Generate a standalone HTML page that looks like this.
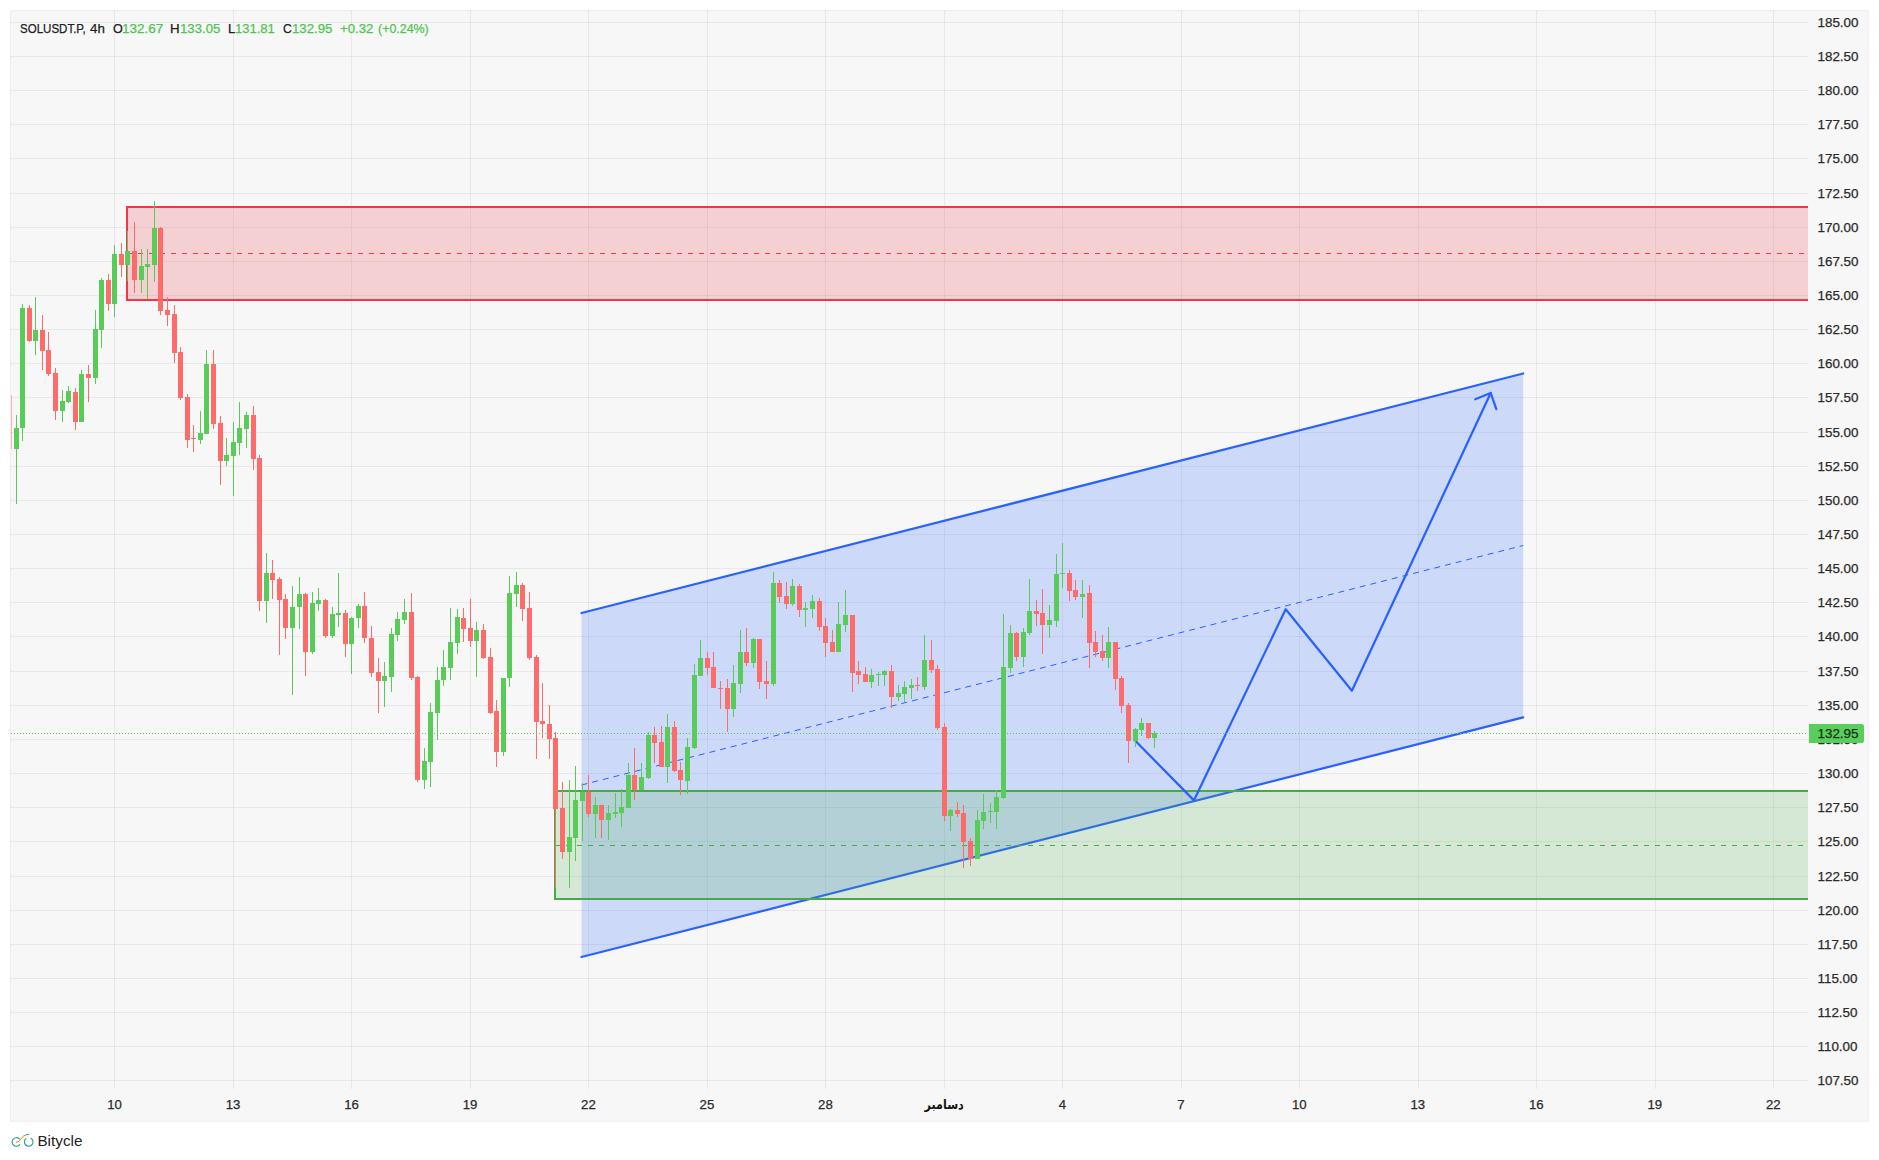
<!DOCTYPE html>
<html lang="fa"><head><meta charset="utf-8"><title>SOLUSDT.P 4h</title>
<style>
html,body{margin:0;padding:0;background:#fff}
body{width:1879px;height:1160px;position:relative;overflow:hidden;font-family:"Liberation Sans","DejaVu Sans",sans-serif;color:#2b2b2b}
svg{position:absolute;left:0;top:0}
.pl,.tl,.lg{-webkit-text-stroke:0.25px currentColor}
.pl{position:absolute;left:1817.5px;font-size:13.4px;line-height:16px;height:16px;white-space:nowrap}
.tl{position:absolute;top:1097.2px;font-size:13.2px;line-height:16px;height:16px;width:80px;margin-left:-40px;text-align:center;white-space:nowrap}
.lg{position:absolute;top:20.7px;font-size:13.6px;color:#202020;line-height:16px;height:16px;white-space:nowrap;transform-origin:0 50%}
.gv{color:#4fc44f}
</style></head><body>
<svg width="1879" height="1160" viewBox="0 0 1879 1160">
<rect x="10" y="10" width="1858.8" height="1111.8" fill="#efefef"/>
<rect x="11.2" y="11.2" width="1856.6" height="1109.6" fill="#f7f7f7"/>
<g fill="#000" fill-opacity="0.058" shape-rendering="crispEdges">
<rect x="10" y="22" width="1798" height="1"/>
<rect x="10" y="56" width="1798" height="1"/>
<rect x="10" y="90" width="1798" height="1"/>
<rect x="10" y="124" width="1798" height="1"/>
<rect x="10" y="158" width="1798" height="1"/>
<rect x="10" y="193" width="1798" height="1"/>
<rect x="10" y="227" width="1798" height="1"/>
<rect x="10" y="261" width="1798" height="1"/>
<rect x="10" y="295" width="1798" height="1"/>
<rect x="10" y="329" width="1798" height="1"/>
<rect x="10" y="363" width="1798" height="1"/>
<rect x="10" y="397" width="1798" height="1"/>
<rect x="10" y="432" width="1798" height="1"/>
<rect x="10" y="466" width="1798" height="1"/>
<rect x="10" y="500" width="1798" height="1"/>
<rect x="10" y="534" width="1798" height="1"/>
<rect x="10" y="568" width="1798" height="1"/>
<rect x="10" y="602" width="1798" height="1"/>
<rect x="10" y="636" width="1798" height="1"/>
<rect x="10" y="671" width="1798" height="1"/>
<rect x="10" y="705" width="1798" height="1"/>
<rect x="10" y="739" width="1798" height="1"/>
<rect x="10" y="773" width="1798" height="1"/>
<rect x="10" y="807" width="1798" height="1"/>
<rect x="10" y="841" width="1798" height="1"/>
<rect x="10" y="876" width="1798" height="1"/>
<rect x="10" y="910" width="1798" height="1"/>
<rect x="10" y="944" width="1798" height="1"/>
<rect x="10" y="978" width="1798" height="1"/>
<rect x="10" y="1012" width="1798" height="1"/>
<rect x="10" y="1046" width="1798" height="1"/>
<rect x="10" y="1080" width="1798" height="1"/>
<rect x="114" y="10" width="1" height="1079"/>
<rect x="233" y="10" width="1" height="1079"/>
<rect x="351" y="10" width="1" height="1079"/>
<rect x="470" y="10" width="1" height="1079"/>
<rect x="588" y="10" width="1" height="1079"/>
<rect x="707" y="10" width="1" height="1079"/>
<rect x="825" y="10" width="1" height="1079"/>
<rect x="944" y="10" width="1" height="1079"/>
<rect x="1062" y="10" width="1" height="1079"/>
<rect x="1181" y="10" width="1" height="1079"/>
<rect x="1299" y="10" width="1" height="1079"/>
<rect x="1418" y="10" width="1" height="1079"/>
<rect x="1536" y="10" width="1" height="1079"/>
<rect x="1655" y="10" width="1" height="1079"/>
<rect x="1773" y="10" width="1" height="1079"/>
</g>
<clipPath id="cp"><rect x="10" y="10" width="1798" height="1079"/></clipPath>
<g clip-path="url(#cp)">
<rect x="127.0" y="207.0" width="1686.0" height="93.0" fill="#f23645" fill-opacity="0.2"/>
<path d="M1813 207.0 H127.0 V300.0 H1813" fill="none" stroke="#f23645" stroke-width="2"/>
<path d="M127.0 253.5 H1808" stroke="#f23645" stroke-width="1" stroke-dasharray="5 6" fill="none"/>
<path d="M581.5 613.0 L1523.2 373.5 L1523.2 717.4 L581.5 957.0 Z" fill="#2962ff" fill-opacity="0.2"/>
<path d="M581.5 613.0 L1523.2 373.5 M581.5 957.0 L1523.2 717.4" fill="none" stroke="#2962ff" stroke-width="2.25" stroke-linecap="round"/>
<path d="M581.5 785.0 L1523.2 545.5" fill="none" stroke="#2962ff" stroke-width="1" stroke-dasharray="6 5"/>
<rect x="555.0" y="791.0" width="1258.0" height="108.0" fill="#4caf50" fill-opacity="0.2"/>
<path d="M1813 791.0 H555.0 V899.0 H1813" fill="none" stroke="#45ac45" stroke-width="2"/>
<path d="M555.0 845.5 H1808" stroke="#45ac45" stroke-width="1" stroke-dasharray="5 6" fill="none"/>
<path d="M1134.8 740.2 L1193.9 800.4 L1285.7 609.2 L1351.9 690.7 L1490.7 393" fill="none" stroke="#2962ff" stroke-width="2.25" stroke-linejoin="round" stroke-linecap="round"/>
<path d="M1475.3 399.3 L1490.7 393 L1496.3 409.2" fill="none" stroke="#2962ff" stroke-width="2.25" stroke-linejoin="round" stroke-linecap="round"/>
<g fill="#fd6c6b" shape-rendering="crispEdges">
<rect x="11" y="395" width="1" height="54" fill-opacity="0.5"/>
<rect x="29" y="305" width="1" height="37"/>
<rect x="27" y="308" width="5" height="33"/>
<rect x="42" y="315" width="1" height="55"/>
<rect x="40" y="330" width="5" height="21"/>
<rect x="48" y="332" width="1" height="44"/>
<rect x="46" y="350" width="5" height="24"/>
<rect x="55" y="368" width="1" height="52"/>
<rect x="53" y="373" width="5" height="38"/>
<rect x="75" y="388" width="1" height="42"/>
<rect x="73" y="392" width="5" height="30"/>
<rect x="88" y="365" width="1" height="37"/>
<rect x="86" y="374" width="5" height="4"/>
<rect x="108" y="274" width="1" height="37"/>
<rect x="106" y="280" width="5" height="24"/>
<rect x="121" y="243" width="1" height="34"/>
<rect x="119" y="254" width="5" height="11"/>
<rect x="134" y="222" width="1" height="71"/>
<rect x="132" y="251" width="5" height="29"/>
<rect x="160" y="227" width="1" height="88"/>
<rect x="158" y="228" width="5" height="83"/>
<rect x="167" y="297" width="1" height="29"/>
<rect x="165" y="310" width="5" height="5"/>
<rect x="174" y="305" width="1" height="58"/>
<rect x="172" y="314" width="5" height="39"/>
<rect x="180" y="347" width="1" height="53"/>
<rect x="178" y="352" width="5" height="46"/>
<rect x="187" y="394" width="1" height="54"/>
<rect x="185" y="397" width="5" height="43"/>
<rect x="193" y="425" width="1" height="27"/>
<rect x="191" y="438" width="5" height="1"/>
<rect x="213" y="350" width="1" height="79"/>
<rect x="211" y="364" width="5" height="60"/>
<rect x="220" y="416" width="1" height="69"/>
<rect x="218" y="423" width="5" height="38"/>
<rect x="253" y="406" width="1" height="64"/>
<rect x="251" y="415" width="5" height="44"/>
<rect x="259" y="455" width="1" height="156"/>
<rect x="257" y="458" width="5" height="143"/>
<rect x="272" y="560" width="1" height="39"/>
<rect x="270" y="573" width="5" height="7"/>
<rect x="279" y="577" width="1" height="78"/>
<rect x="277" y="579" width="5" height="21"/>
<rect x="285" y="594" width="1" height="45"/>
<rect x="283" y="599" width="5" height="29"/>
<rect x="305" y="593" width="1" height="83"/>
<rect x="303" y="594" width="5" height="58"/>
<rect x="325" y="599" width="1" height="39"/>
<rect x="323" y="600" width="5" height="36"/>
<rect x="345" y="610" width="1" height="47"/>
<rect x="343" y="613" width="5" height="31"/>
<rect x="364" y="592" width="1" height="51"/>
<rect x="362" y="606" width="5" height="32"/>
<rect x="371" y="626" width="1" height="51"/>
<rect x="369" y="638" width="5" height="35"/>
<rect x="378" y="658" width="1" height="55"/>
<rect x="376" y="672" width="5" height="9"/>
<rect x="411" y="593" width="1" height="87"/>
<rect x="409" y="612" width="5" height="66"/>
<rect x="417" y="676" width="1" height="106"/>
<rect x="415" y="677" width="5" height="103"/>
<rect x="463" y="608" width="1" height="34"/>
<rect x="461" y="618" width="5" height="11"/>
<rect x="470" y="599" width="1" height="48"/>
<rect x="468" y="628" width="5" height="13"/>
<rect x="483" y="624" width="1" height="35"/>
<rect x="481" y="630" width="5" height="28"/>
<rect x="490" y="648" width="1" height="66"/>
<rect x="488" y="657" width="5" height="56"/>
<rect x="496" y="700" width="1" height="67"/>
<rect x="494" y="711" width="5" height="41"/>
<rect x="522" y="583" width="1" height="38"/>
<rect x="520" y="585" width="5" height="24"/>
<rect x="529" y="592" width="1" height="68"/>
<rect x="527" y="608" width="5" height="50"/>
<rect x="536" y="655" width="1" height="104"/>
<rect x="534" y="657" width="5" height="65"/>
<rect x="542" y="683" width="1" height="55"/>
<rect x="540" y="721" width="5" height="3"/>
<rect x="549" y="705" width="1" height="54"/>
<rect x="547" y="724" width="5" height="15"/>
<rect x="555" y="732" width="1" height="156"/>
<rect x="553" y="738" width="5" height="71"/>
<rect x="562" y="782" width="1" height="77"/>
<rect x="560" y="808" width="5" height="44"/>
<rect x="588" y="775" width="1" height="42"/>
<rect x="586" y="792" width="5" height="22"/>
<rect x="601" y="805" width="1" height="33"/>
<rect x="599" y="805" width="5" height="15"/>
<rect x="634" y="748" width="1" height="52"/>
<rect x="632" y="775" width="5" height="15"/>
<rect x="654" y="727" width="1" height="36"/>
<rect x="652" y="735" width="5" height="8"/>
<rect x="661" y="726" width="1" height="41"/>
<rect x="659" y="742" width="5" height="25"/>
<rect x="674" y="721" width="1" height="51"/>
<rect x="672" y="727" width="5" height="44"/>
<rect x="680" y="762" width="1" height="33"/>
<rect x="678" y="770" width="5" height="10"/>
<rect x="707" y="652" width="1" height="23"/>
<rect x="705" y="658" width="5" height="10"/>
<rect x="713" y="652" width="1" height="36"/>
<rect x="711" y="667" width="5" height="21"/>
<rect x="720" y="681" width="1" height="28"/>
<rect x="718" y="688" width="5" height="1"/>
<rect x="727" y="679" width="1" height="53"/>
<rect x="725" y="688" width="5" height="21"/>
<rect x="746" y="628" width="1" height="38"/>
<rect x="744" y="652" width="5" height="11"/>
<rect x="759" y="639" width="1" height="50"/>
<rect x="757" y="639" width="5" height="43"/>
<rect x="766" y="661" width="1" height="38"/>
<rect x="764" y="681" width="5" height="3"/>
<rect x="779" y="580" width="1" height="23"/>
<rect x="777" y="583" width="5" height="14"/>
<rect x="786" y="582" width="1" height="27"/>
<rect x="784" y="596" width="5" height="8"/>
<rect x="799" y="584" width="1" height="33"/>
<rect x="797" y="586" width="5" height="24"/>
<rect x="819" y="598" width="1" height="33"/>
<rect x="817" y="601" width="5" height="26"/>
<rect x="825" y="618" width="1" height="39"/>
<rect x="823" y="626" width="5" height="17"/>
<rect x="832" y="630" width="1" height="22"/>
<rect x="830" y="642" width="5" height="10"/>
<rect x="852" y="615" width="1" height="77"/>
<rect x="850" y="615" width="5" height="58"/>
<rect x="858" y="661" width="1" height="23"/>
<rect x="856" y="671" width="5" height="4"/>
<rect x="865" y="667" width="1" height="15"/>
<rect x="863" y="674" width="5" height="8"/>
<rect x="891" y="665" width="1" height="43"/>
<rect x="889" y="671" width="5" height="26"/>
<rect x="917" y="677" width="1" height="14"/>
<rect x="915" y="685" width="5" height="1"/>
<rect x="931" y="640" width="1" height="33"/>
<rect x="929" y="660" width="5" height="10"/>
<rect x="937" y="665" width="1" height="65"/>
<rect x="935" y="669" width="5" height="59"/>
<rect x="944" y="723" width="1" height="98"/>
<rect x="942" y="727" width="5" height="89"/>
<rect x="957" y="802" width="1" height="15"/>
<rect x="955" y="810" width="5" height="4"/>
<rect x="963" y="805" width="1" height="63"/>
<rect x="961" y="813" width="5" height="29"/>
<rect x="970" y="838" width="1" height="28"/>
<rect x="968" y="841" width="5" height="18"/>
<rect x="1016" y="632" width="1" height="29"/>
<rect x="1014" y="633" width="5" height="24"/>
<rect x="1036" y="600" width="1" height="26"/>
<rect x="1034" y="611" width="5" height="3"/>
<rect x="1042" y="589" width="1" height="65"/>
<rect x="1040" y="613" width="5" height="12"/>
<rect x="1069" y="570" width="1" height="31"/>
<rect x="1067" y="573" width="5" height="18"/>
<rect x="1075" y="580" width="1" height="20"/>
<rect x="1073" y="590" width="5" height="7"/>
<rect x="1089" y="585" width="1" height="83"/>
<rect x="1087" y="593" width="5" height="50"/>
<rect x="1095" y="631" width="1" height="26"/>
<rect x="1093" y="642" width="5" height="10"/>
<rect x="1102" y="635" width="1" height="26"/>
<rect x="1100" y="651" width="5" height="7"/>
<rect x="1115" y="642" width="1" height="48"/>
<rect x="1113" y="642" width="5" height="37"/>
<rect x="1121" y="676" width="1" height="37"/>
<rect x="1119" y="678" width="5" height="28"/>
<rect x="1128" y="703" width="1" height="60"/>
<rect x="1126" y="705" width="5" height="36"/>
<rect x="1148" y="723" width="1" height="16"/>
<rect x="1146" y="723" width="5" height="15"/>
</g>
<g fill="#58cb58" shape-rendering="crispEdges">
<rect x="16" y="415" width="1" height="89"/>
<rect x="14" y="428" width="5" height="21"/>
<rect x="22" y="304" width="1" height="137"/>
<rect x="20" y="308" width="5" height="120"/>
<rect x="35" y="297" width="1" height="58"/>
<rect x="33" y="330" width="5" height="11"/>
<rect x="62" y="390" width="1" height="32"/>
<rect x="60" y="401" width="5" height="10"/>
<rect x="68" y="386" width="1" height="17"/>
<rect x="66" y="391" width="5" height="11"/>
<rect x="81" y="370" width="1" height="52"/>
<rect x="79" y="374" width="5" height="48"/>
<rect x="95" y="310" width="1" height="74"/>
<rect x="93" y="329" width="5" height="49"/>
<rect x="101" y="278" width="1" height="70"/>
<rect x="99" y="280" width="5" height="50"/>
<rect x="114" y="245" width="1" height="72"/>
<rect x="112" y="254" width="5" height="50"/>
<rect x="127" y="231" width="1" height="50"/>
<rect x="125" y="251" width="5" height="14"/>
<rect x="141" y="249" width="1" height="44"/>
<rect x="139" y="266" width="5" height="14"/>
<rect x="147" y="249" width="1" height="50"/>
<rect x="145" y="264" width="5" height="3"/>
<rect x="154" y="201" width="1" height="81"/>
<rect x="152" y="228" width="5" height="37"/>
<rect x="200" y="411" width="1" height="33"/>
<rect x="198" y="433" width="5" height="7"/>
<rect x="206" y="350" width="1" height="84"/>
<rect x="204" y="364" width="5" height="70"/>
<rect x="226" y="438" width="1" height="28"/>
<rect x="224" y="455" width="5" height="6"/>
<rect x="233" y="422" width="1" height="74"/>
<rect x="231" y="442" width="5" height="14"/>
<rect x="239" y="402" width="1" height="53"/>
<rect x="237" y="428" width="5" height="15"/>
<rect x="246" y="412" width="1" height="36"/>
<rect x="244" y="415" width="5" height="14"/>
<rect x="266" y="553" width="1" height="70"/>
<rect x="264" y="573" width="5" height="28"/>
<rect x="292" y="586" width="1" height="109"/>
<rect x="290" y="607" width="5" height="21"/>
<rect x="299" y="577" width="1" height="52"/>
<rect x="297" y="594" width="5" height="13"/>
<rect x="312" y="592" width="1" height="62"/>
<rect x="310" y="603" width="5" height="49"/>
<rect x="318" y="588" width="1" height="23"/>
<rect x="316" y="600" width="5" height="4"/>
<rect x="332" y="607" width="1" height="31"/>
<rect x="330" y="614" width="5" height="22"/>
<rect x="338" y="573" width="1" height="54"/>
<rect x="336" y="613" width="5" height="2"/>
<rect x="351" y="617" width="1" height="57"/>
<rect x="349" y="618" width="5" height="26"/>
<rect x="358" y="604" width="1" height="24"/>
<rect x="356" y="606" width="5" height="12"/>
<rect x="384" y="662" width="1" height="45"/>
<rect x="382" y="676" width="5" height="5"/>
<rect x="391" y="628" width="1" height="64"/>
<rect x="389" y="634" width="5" height="43"/>
<rect x="397" y="612" width="1" height="29"/>
<rect x="395" y="619" width="5" height="16"/>
<rect x="404" y="599" width="1" height="25"/>
<rect x="402" y="612" width="5" height="8"/>
<rect x="424" y="748" width="1" height="41"/>
<rect x="422" y="761" width="5" height="19"/>
<rect x="430" y="703" width="1" height="84"/>
<rect x="428" y="712" width="5" height="50"/>
<rect x="437" y="667" width="1" height="73"/>
<rect x="435" y="680" width="5" height="33"/>
<rect x="443" y="650" width="1" height="36"/>
<rect x="441" y="667" width="5" height="13"/>
<rect x="450" y="608" width="1" height="72"/>
<rect x="448" y="642" width="5" height="26"/>
<rect x="457" y="609" width="1" height="45"/>
<rect x="455" y="617" width="5" height="26"/>
<rect x="476" y="622" width="1" height="55"/>
<rect x="474" y="630" width="5" height="11"/>
<rect x="503" y="678" width="1" height="78"/>
<rect x="501" y="678" width="5" height="74"/>
<rect x="509" y="576" width="1" height="111"/>
<rect x="507" y="593" width="5" height="85"/>
<rect x="516" y="572" width="1" height="35"/>
<rect x="514" y="585" width="5" height="9"/>
<rect x="569" y="780" width="1" height="108"/>
<rect x="567" y="837" width="5" height="15"/>
<rect x="575" y="766" width="1" height="95"/>
<rect x="573" y="800" width="5" height="38"/>
<rect x="582" y="783" width="1" height="58"/>
<rect x="580" y="792" width="5" height="9"/>
<rect x="595" y="797" width="1" height="41"/>
<rect x="593" y="805" width="5" height="9"/>
<rect x="608" y="805" width="1" height="35"/>
<rect x="606" y="813" width="5" height="7"/>
<rect x="615" y="793" width="1" height="25"/>
<rect x="613" y="812" width="5" height="2"/>
<rect x="621" y="789" width="1" height="38"/>
<rect x="619" y="807" width="5" height="6"/>
<rect x="628" y="763" width="1" height="45"/>
<rect x="626" y="775" width="5" height="33"/>
<rect x="641" y="763" width="1" height="27"/>
<rect x="639" y="777" width="5" height="13"/>
<rect x="648" y="732" width="1" height="47"/>
<rect x="646" y="735" width="5" height="43"/>
<rect x="667" y="714" width="1" height="69"/>
<rect x="665" y="727" width="5" height="40"/>
<rect x="687" y="738" width="1" height="56"/>
<rect x="685" y="747" width="5" height="34"/>
<rect x="694" y="664" width="1" height="85"/>
<rect x="692" y="675" width="5" height="73"/>
<rect x="700" y="640" width="1" height="36"/>
<rect x="698" y="658" width="5" height="18"/>
<rect x="733" y="665" width="1" height="52"/>
<rect x="731" y="683" width="5" height="26"/>
<rect x="740" y="630" width="1" height="63"/>
<rect x="738" y="652" width="5" height="32"/>
<rect x="753" y="638" width="1" height="30"/>
<rect x="751" y="639" width="5" height="24"/>
<rect x="773" y="572" width="1" height="114"/>
<rect x="771" y="583" width="5" height="101"/>
<rect x="792" y="579" width="1" height="27"/>
<rect x="790" y="586" width="5" height="18"/>
<rect x="805" y="602" width="1" height="25"/>
<rect x="803" y="608" width="5" height="2"/>
<rect x="812" y="595" width="1" height="23"/>
<rect x="810" y="601" width="5" height="8"/>
<rect x="838" y="602" width="1" height="50"/>
<rect x="836" y="624" width="5" height="28"/>
<rect x="845" y="590" width="1" height="42"/>
<rect x="843" y="615" width="5" height="10"/>
<rect x="871" y="669" width="1" height="19"/>
<rect x="869" y="675" width="5" height="7"/>
<rect x="878" y="672" width="1" height="14"/>
<rect x="876" y="674" width="5" height="1"/>
<rect x="884" y="670" width="1" height="16"/>
<rect x="882" y="671" width="5" height="4"/>
<rect x="898" y="685" width="1" height="16"/>
<rect x="896" y="693" width="5" height="4"/>
<rect x="904" y="681" width="1" height="21"/>
<rect x="902" y="687" width="5" height="7"/>
<rect x="911" y="679" width="1" height="20"/>
<rect x="909" y="685" width="5" height="3"/>
<rect x="924" y="635" width="1" height="55"/>
<rect x="922" y="660" width="5" height="27"/>
<rect x="950" y="809" width="1" height="22"/>
<rect x="948" y="810" width="5" height="6"/>
<rect x="977" y="810" width="1" height="49"/>
<rect x="975" y="820" width="5" height="39"/>
<rect x="983" y="794" width="1" height="35"/>
<rect x="981" y="812" width="5" height="9"/>
<rect x="990" y="803" width="1" height="20"/>
<rect x="988" y="811" width="5" height="1"/>
<rect x="996" y="790" width="1" height="39"/>
<rect x="994" y="797" width="5" height="15"/>
<rect x="1003" y="614" width="1" height="185"/>
<rect x="1001" y="667" width="5" height="131"/>
<rect x="1010" y="625" width="1" height="48"/>
<rect x="1008" y="633" width="5" height="35"/>
<rect x="1023" y="628" width="1" height="39"/>
<rect x="1021" y="632" width="5" height="25"/>
<rect x="1029" y="579" width="1" height="56"/>
<rect x="1027" y="611" width="5" height="22"/>
<rect x="1049" y="605" width="1" height="33"/>
<rect x="1047" y="620" width="5" height="5"/>
<rect x="1056" y="554" width="1" height="73"/>
<rect x="1054" y="574" width="5" height="47"/>
<rect x="1062" y="543" width="1" height="45"/>
<rect x="1060" y="573" width="5" height="1"/>
<rect x="1082" y="580" width="1" height="38"/>
<rect x="1080" y="594" width="5" height="3"/>
<rect x="1108" y="627" width="1" height="41"/>
<rect x="1106" y="642" width="5" height="16"/>
<rect x="1135" y="728" width="1" height="19"/>
<rect x="1133" y="729" width="5" height="12"/>
<rect x="1141" y="718" width="1" height="18"/>
<rect x="1139" y="723" width="5" height="7"/>
<rect x="1154" y="731" width="1" height="17"/>
<rect x="1152" y="733" width="5" height="5"/>
</g>
<g fill="#58cb58" shape-rendering="crispEdges">
<path d="M11 733h1v1h-1zM14 733h1v1h-1zM17 733h1v1h-1zM20 733h1v1h-1zM23 733h1v1h-1zM26 733h1v1h-1zM29 733h1v1h-1zM32 733h1v1h-1zM35 733h1v1h-1zM38 733h1v1h-1zM41 733h1v1h-1zM44 733h1v1h-1zM47 733h1v1h-1zM50 733h1v1h-1zM53 733h1v1h-1zM56 733h1v1h-1zM59 733h1v1h-1zM62 733h1v1h-1zM65 733h1v1h-1zM68 733h1v1h-1zM71 733h1v1h-1zM74 733h1v1h-1zM77 733h1v1h-1zM80 733h1v1h-1zM83 733h1v1h-1zM86 733h1v1h-1zM89 733h1v1h-1zM92 733h1v1h-1zM95 733h1v1h-1zM98 733h1v1h-1zM101 733h1v1h-1zM104 733h1v1h-1zM107 733h1v1h-1zM110 733h1v1h-1zM113 733h1v1h-1zM116 733h1v1h-1zM119 733h1v1h-1zM122 733h1v1h-1zM125 733h1v1h-1zM128 733h1v1h-1zM131 733h1v1h-1zM134 733h1v1h-1zM137 733h1v1h-1zM140 733h1v1h-1zM143 733h1v1h-1zM146 733h1v1h-1zM149 733h1v1h-1zM152 733h1v1h-1zM155 733h1v1h-1zM158 733h1v1h-1zM161 733h1v1h-1zM164 733h1v1h-1zM167 733h1v1h-1zM170 733h1v1h-1zM173 733h1v1h-1zM176 733h1v1h-1zM179 733h1v1h-1zM182 733h1v1h-1zM185 733h1v1h-1zM188 733h1v1h-1zM191 733h1v1h-1zM194 733h1v1h-1zM197 733h1v1h-1zM200 733h1v1h-1zM203 733h1v1h-1zM206 733h1v1h-1zM209 733h1v1h-1zM212 733h1v1h-1zM215 733h1v1h-1zM218 733h1v1h-1zM221 733h1v1h-1zM224 733h1v1h-1zM227 733h1v1h-1zM230 733h1v1h-1zM233 733h1v1h-1zM236 733h1v1h-1zM239 733h1v1h-1zM242 733h1v1h-1zM245 733h1v1h-1zM248 733h1v1h-1zM251 733h1v1h-1zM254 733h1v1h-1zM257 733h1v1h-1zM260 733h1v1h-1zM263 733h1v1h-1zM266 733h1v1h-1zM269 733h1v1h-1zM272 733h1v1h-1zM275 733h1v1h-1zM278 733h1v1h-1zM281 733h1v1h-1zM284 733h1v1h-1zM287 733h1v1h-1zM290 733h1v1h-1zM293 733h1v1h-1zM296 733h1v1h-1zM299 733h1v1h-1zM302 733h1v1h-1zM305 733h1v1h-1zM308 733h1v1h-1zM311 733h1v1h-1zM314 733h1v1h-1zM317 733h1v1h-1zM320 733h1v1h-1zM323 733h1v1h-1zM326 733h1v1h-1zM329 733h1v1h-1zM332 733h1v1h-1zM335 733h1v1h-1zM338 733h1v1h-1zM341 733h1v1h-1zM344 733h1v1h-1zM347 733h1v1h-1zM350 733h1v1h-1zM353 733h1v1h-1zM356 733h1v1h-1zM359 733h1v1h-1zM362 733h1v1h-1zM365 733h1v1h-1zM368 733h1v1h-1zM371 733h1v1h-1zM374 733h1v1h-1zM377 733h1v1h-1zM380 733h1v1h-1zM383 733h1v1h-1zM386 733h1v1h-1zM389 733h1v1h-1zM392 733h1v1h-1zM395 733h1v1h-1zM398 733h1v1h-1zM401 733h1v1h-1zM404 733h1v1h-1zM407 733h1v1h-1zM410 733h1v1h-1zM413 733h1v1h-1zM416 733h1v1h-1zM419 733h1v1h-1zM422 733h1v1h-1zM425 733h1v1h-1zM428 733h1v1h-1zM431 733h1v1h-1zM434 733h1v1h-1zM437 733h1v1h-1zM440 733h1v1h-1zM443 733h1v1h-1zM446 733h1v1h-1zM449 733h1v1h-1zM452 733h1v1h-1zM455 733h1v1h-1zM458 733h1v1h-1zM461 733h1v1h-1zM464 733h1v1h-1zM467 733h1v1h-1zM470 733h1v1h-1zM473 733h1v1h-1zM476 733h1v1h-1zM479 733h1v1h-1zM482 733h1v1h-1zM485 733h1v1h-1zM488 733h1v1h-1zM491 733h1v1h-1zM494 733h1v1h-1zM497 733h1v1h-1zM500 733h1v1h-1zM503 733h1v1h-1zM506 733h1v1h-1zM509 733h1v1h-1zM512 733h1v1h-1zM515 733h1v1h-1zM518 733h1v1h-1zM521 733h1v1h-1zM524 733h1v1h-1zM527 733h1v1h-1zM530 733h1v1h-1zM533 733h1v1h-1zM536 733h1v1h-1zM539 733h1v1h-1zM542 733h1v1h-1zM545 733h1v1h-1zM548 733h1v1h-1zM551 733h1v1h-1zM554 733h1v1h-1zM557 733h1v1h-1zM560 733h1v1h-1zM563 733h1v1h-1zM566 733h1v1h-1zM569 733h1v1h-1zM572 733h1v1h-1zM575 733h1v1h-1zM578 733h1v1h-1zM581 733h1v1h-1zM584 733h1v1h-1zM587 733h1v1h-1zM590 733h1v1h-1zM593 733h1v1h-1zM596 733h1v1h-1zM599 733h1v1h-1zM602 733h1v1h-1zM605 733h1v1h-1zM608 733h1v1h-1zM611 733h1v1h-1zM614 733h1v1h-1zM617 733h1v1h-1zM620 733h1v1h-1zM623 733h1v1h-1zM626 733h1v1h-1zM629 733h1v1h-1zM632 733h1v1h-1zM635 733h1v1h-1zM638 733h1v1h-1zM641 733h1v1h-1zM644 733h1v1h-1zM647 733h1v1h-1zM650 733h1v1h-1zM653 733h1v1h-1zM656 733h1v1h-1zM659 733h1v1h-1zM662 733h1v1h-1zM665 733h1v1h-1zM668 733h1v1h-1zM671 733h1v1h-1zM674 733h1v1h-1zM677 733h1v1h-1zM680 733h1v1h-1zM683 733h1v1h-1zM686 733h1v1h-1zM689 733h1v1h-1zM692 733h1v1h-1zM695 733h1v1h-1zM698 733h1v1h-1zM701 733h1v1h-1zM704 733h1v1h-1zM707 733h1v1h-1zM710 733h1v1h-1zM713 733h1v1h-1zM716 733h1v1h-1zM719 733h1v1h-1zM722 733h1v1h-1zM725 733h1v1h-1zM728 733h1v1h-1zM731 733h1v1h-1zM734 733h1v1h-1zM737 733h1v1h-1zM740 733h1v1h-1zM743 733h1v1h-1zM746 733h1v1h-1zM749 733h1v1h-1zM752 733h1v1h-1zM755 733h1v1h-1zM758 733h1v1h-1zM761 733h1v1h-1zM764 733h1v1h-1zM767 733h1v1h-1zM770 733h1v1h-1zM773 733h1v1h-1zM776 733h1v1h-1zM779 733h1v1h-1zM782 733h1v1h-1zM785 733h1v1h-1zM788 733h1v1h-1zM791 733h1v1h-1zM794 733h1v1h-1zM797 733h1v1h-1zM800 733h1v1h-1zM803 733h1v1h-1zM806 733h1v1h-1zM809 733h1v1h-1zM812 733h1v1h-1zM815 733h1v1h-1zM818 733h1v1h-1zM821 733h1v1h-1zM824 733h1v1h-1zM827 733h1v1h-1zM830 733h1v1h-1zM833 733h1v1h-1zM836 733h1v1h-1zM839 733h1v1h-1zM842 733h1v1h-1zM845 733h1v1h-1zM848 733h1v1h-1zM851 733h1v1h-1zM854 733h1v1h-1zM857 733h1v1h-1zM860 733h1v1h-1zM863 733h1v1h-1zM866 733h1v1h-1zM869 733h1v1h-1zM872 733h1v1h-1zM875 733h1v1h-1zM878 733h1v1h-1zM881 733h1v1h-1zM884 733h1v1h-1zM887 733h1v1h-1zM890 733h1v1h-1zM893 733h1v1h-1zM896 733h1v1h-1zM899 733h1v1h-1zM902 733h1v1h-1zM905 733h1v1h-1zM908 733h1v1h-1zM911 733h1v1h-1zM914 733h1v1h-1zM917 733h1v1h-1zM920 733h1v1h-1zM923 733h1v1h-1zM926 733h1v1h-1zM929 733h1v1h-1zM932 733h1v1h-1zM935 733h1v1h-1zM938 733h1v1h-1zM941 733h1v1h-1zM944 733h1v1h-1zM947 733h1v1h-1zM950 733h1v1h-1zM953 733h1v1h-1zM956 733h1v1h-1zM959 733h1v1h-1zM962 733h1v1h-1zM965 733h1v1h-1zM968 733h1v1h-1zM971 733h1v1h-1zM974 733h1v1h-1zM977 733h1v1h-1zM980 733h1v1h-1zM983 733h1v1h-1zM986 733h1v1h-1zM989 733h1v1h-1zM992 733h1v1h-1zM995 733h1v1h-1zM998 733h1v1h-1zM1001 733h1v1h-1zM1004 733h1v1h-1zM1007 733h1v1h-1zM1010 733h1v1h-1zM1013 733h1v1h-1zM1016 733h1v1h-1zM1019 733h1v1h-1zM1022 733h1v1h-1zM1025 733h1v1h-1zM1028 733h1v1h-1zM1031 733h1v1h-1zM1034 733h1v1h-1zM1037 733h1v1h-1zM1040 733h1v1h-1zM1043 733h1v1h-1zM1046 733h1v1h-1zM1049 733h1v1h-1zM1052 733h1v1h-1zM1055 733h1v1h-1zM1058 733h1v1h-1zM1061 733h1v1h-1zM1064 733h1v1h-1zM1067 733h1v1h-1zM1070 733h1v1h-1zM1073 733h1v1h-1zM1076 733h1v1h-1zM1079 733h1v1h-1zM1082 733h1v1h-1zM1085 733h1v1h-1zM1088 733h1v1h-1zM1091 733h1v1h-1zM1094 733h1v1h-1zM1097 733h1v1h-1zM1100 733h1v1h-1zM1103 733h1v1h-1zM1106 733h1v1h-1zM1109 733h1v1h-1zM1112 733h1v1h-1zM1115 733h1v1h-1zM1118 733h1v1h-1zM1121 733h1v1h-1zM1124 733h1v1h-1zM1127 733h1v1h-1zM1130 733h1v1h-1zM1133 733h1v1h-1zM1136 733h1v1h-1zM1139 733h1v1h-1zM1142 733h1v1h-1zM1145 733h1v1h-1zM1148 733h1v1h-1zM1151 733h1v1h-1zM1154 733h1v1h-1zM1157 733h1v1h-1zM1160 733h1v1h-1zM1163 733h1v1h-1zM1166 733h1v1h-1zM1169 733h1v1h-1zM1172 733h1v1h-1zM1175 733h1v1h-1zM1178 733h1v1h-1zM1181 733h1v1h-1zM1184 733h1v1h-1zM1187 733h1v1h-1zM1190 733h1v1h-1zM1193 733h1v1h-1zM1196 733h1v1h-1zM1199 733h1v1h-1zM1202 733h1v1h-1zM1205 733h1v1h-1zM1208 733h1v1h-1zM1211 733h1v1h-1zM1214 733h1v1h-1zM1217 733h1v1h-1zM1220 733h1v1h-1zM1223 733h1v1h-1zM1226 733h1v1h-1zM1229 733h1v1h-1zM1232 733h1v1h-1zM1235 733h1v1h-1zM1238 733h1v1h-1zM1241 733h1v1h-1zM1244 733h1v1h-1zM1247 733h1v1h-1zM1250 733h1v1h-1zM1253 733h1v1h-1zM1256 733h1v1h-1zM1259 733h1v1h-1zM1262 733h1v1h-1zM1265 733h1v1h-1zM1268 733h1v1h-1zM1271 733h1v1h-1zM1274 733h1v1h-1zM1277 733h1v1h-1zM1280 733h1v1h-1zM1283 733h1v1h-1zM1286 733h1v1h-1zM1289 733h1v1h-1zM1292 733h1v1h-1zM1295 733h1v1h-1zM1298 733h1v1h-1zM1301 733h1v1h-1zM1304 733h1v1h-1zM1307 733h1v1h-1zM1310 733h1v1h-1zM1313 733h1v1h-1zM1316 733h1v1h-1zM1319 733h1v1h-1zM1322 733h1v1h-1zM1325 733h1v1h-1zM1328 733h1v1h-1zM1331 733h1v1h-1zM1334 733h1v1h-1zM1337 733h1v1h-1zM1340 733h1v1h-1zM1343 733h1v1h-1zM1346 733h1v1h-1zM1349 733h1v1h-1zM1352 733h1v1h-1zM1355 733h1v1h-1zM1358 733h1v1h-1zM1361 733h1v1h-1zM1364 733h1v1h-1zM1367 733h1v1h-1zM1370 733h1v1h-1zM1373 733h1v1h-1zM1376 733h1v1h-1zM1379 733h1v1h-1zM1382 733h1v1h-1zM1385 733h1v1h-1zM1388 733h1v1h-1zM1391 733h1v1h-1zM1394 733h1v1h-1zM1397 733h1v1h-1zM1400 733h1v1h-1zM1403 733h1v1h-1zM1406 733h1v1h-1zM1409 733h1v1h-1zM1412 733h1v1h-1zM1415 733h1v1h-1zM1418 733h1v1h-1zM1421 733h1v1h-1zM1424 733h1v1h-1zM1427 733h1v1h-1zM1430 733h1v1h-1zM1433 733h1v1h-1zM1436 733h1v1h-1zM1439 733h1v1h-1zM1442 733h1v1h-1zM1445 733h1v1h-1zM1448 733h1v1h-1zM1451 733h1v1h-1zM1454 733h1v1h-1zM1457 733h1v1h-1zM1460 733h1v1h-1zM1463 733h1v1h-1zM1466 733h1v1h-1zM1469 733h1v1h-1zM1472 733h1v1h-1zM1475 733h1v1h-1zM1478 733h1v1h-1zM1481 733h1v1h-1zM1484 733h1v1h-1zM1487 733h1v1h-1zM1490 733h1v1h-1zM1493 733h1v1h-1zM1496 733h1v1h-1zM1499 733h1v1h-1zM1502 733h1v1h-1zM1505 733h1v1h-1zM1508 733h1v1h-1zM1511 733h1v1h-1zM1514 733h1v1h-1zM1517 733h1v1h-1zM1520 733h1v1h-1zM1523 733h1v1h-1zM1526 733h1v1h-1zM1529 733h1v1h-1zM1532 733h1v1h-1zM1535 733h1v1h-1zM1538 733h1v1h-1zM1541 733h1v1h-1zM1544 733h1v1h-1zM1547 733h1v1h-1zM1550 733h1v1h-1zM1553 733h1v1h-1zM1556 733h1v1h-1zM1559 733h1v1h-1zM1562 733h1v1h-1zM1565 733h1v1h-1zM1568 733h1v1h-1zM1571 733h1v1h-1zM1574 733h1v1h-1zM1577 733h1v1h-1zM1580 733h1v1h-1zM1583 733h1v1h-1zM1586 733h1v1h-1zM1589 733h1v1h-1zM1592 733h1v1h-1zM1595 733h1v1h-1zM1598 733h1v1h-1zM1601 733h1v1h-1zM1604 733h1v1h-1zM1607 733h1v1h-1zM1610 733h1v1h-1zM1613 733h1v1h-1zM1616 733h1v1h-1zM1619 733h1v1h-1zM1622 733h1v1h-1zM1625 733h1v1h-1zM1628 733h1v1h-1zM1631 733h1v1h-1zM1634 733h1v1h-1zM1637 733h1v1h-1zM1640 733h1v1h-1zM1643 733h1v1h-1zM1646 733h1v1h-1zM1649 733h1v1h-1zM1652 733h1v1h-1zM1655 733h1v1h-1zM1658 733h1v1h-1zM1661 733h1v1h-1zM1664 733h1v1h-1zM1667 733h1v1h-1zM1670 733h1v1h-1zM1673 733h1v1h-1zM1676 733h1v1h-1zM1679 733h1v1h-1zM1682 733h1v1h-1zM1685 733h1v1h-1zM1688 733h1v1h-1zM1691 733h1v1h-1zM1694 733h1v1h-1zM1697 733h1v1h-1zM1700 733h1v1h-1zM1703 733h1v1h-1zM1706 733h1v1h-1zM1709 733h1v1h-1zM1712 733h1v1h-1zM1715 733h1v1h-1zM1718 733h1v1h-1zM1721 733h1v1h-1zM1724 733h1v1h-1zM1727 733h1v1h-1zM1730 733h1v1h-1zM1733 733h1v1h-1zM1736 733h1v1h-1zM1739 733h1v1h-1zM1742 733h1v1h-1zM1745 733h1v1h-1zM1748 733h1v1h-1zM1751 733h1v1h-1zM1754 733h1v1h-1zM1757 733h1v1h-1zM1760 733h1v1h-1zM1763 733h1v1h-1zM1766 733h1v1h-1zM1769 733h1v1h-1zM1772 733h1v1h-1zM1775 733h1v1h-1zM1778 733h1v1h-1zM1781 733h1v1h-1zM1784 733h1v1h-1zM1787 733h1v1h-1zM1790 733h1v1h-1zM1793 733h1v1h-1zM1796 733h1v1h-1zM1799 733h1v1h-1zM1802 733h1v1h-1zM1805 733h1v1h-1z"/>
</g>
</g>
<g fill="none" stroke-width="1.1" stroke-linecap="round">
<path d="M19.4 1138.9 A4.3 4.3 0 1 0 19.8 1144.6" stroke="#2a9d8f"/>
<path d="M26.0 1138.6 A4.3 4.3 0 1 0 31.0 1138.3" stroke="#2a9d8f"/>
<defs><linearGradient id="lg" x1="0" y1="1" x2="1" y2="0"><stop offset="0" stop-color="#f26a3d"/><stop offset="0.6" stop-color="#f2a03d"/><stop offset="1" stop-color="#2a9d8f"/></linearGradient></defs>
<path d="M16.3 1142.3 C20.5 1141.8 21.5 1136.5 24.8 1135.2 C26.3 1134.5 27.6 1134.3 28.8 1134.5" stroke="url(#lg)"/>
</g>
</svg>
<div class="pl" style="top:14.5px">185.00</div>
<div class="pl" style="top:48.5px">182.50</div>
<div class="pl" style="top:82.5px">180.00</div>
<div class="pl" style="top:116.5px">177.50</div>
<div class="pl" style="top:150.5px">175.00</div>
<div class="pl" style="top:185.5px">172.50</div>
<div class="pl" style="top:219.5px">170.00</div>
<div class="pl" style="top:253.5px">167.50</div>
<div class="pl" style="top:287.5px">165.00</div>
<div class="pl" style="top:321.5px">162.50</div>
<div class="pl" style="top:355.5px">160.00</div>
<div class="pl" style="top:389.5px">157.50</div>
<div class="pl" style="top:424.5px">155.00</div>
<div class="pl" style="top:458.5px">152.50</div>
<div class="pl" style="top:492.5px">150.00</div>
<div class="pl" style="top:526.5px">147.50</div>
<div class="pl" style="top:560.5px">145.00</div>
<div class="pl" style="top:594.5px">142.50</div>
<div class="pl" style="top:628.5px">140.00</div>
<div class="pl" style="top:663.5px">137.50</div>
<div class="pl" style="top:697.5px">135.00</div>
<div class="pl" style="top:731.5px">132.50</div>
<div class="pl" style="top:765.5px">130.00</div>
<div class="pl" style="top:799.5px">127.50</div>
<div class="pl" style="top:833.5px">125.00</div>
<div class="pl" style="top:868.5px">122.50</div>
<div class="pl" style="top:902.5px">120.00</div>
<div class="pl" style="top:936.5px">117.50</div>
<div class="pl" style="top:970.5px">115.00</div>
<div class="pl" style="top:1004.5px">112.50</div>
<div class="pl" style="top:1038.5px">110.00</div>
<div class="pl" style="top:1072.5px">107.50</div>
<div style="position:absolute;left:1809px;top:724px;width:54.5px;height:19px;border-radius:0 2.5px 2.5px 0;background:#59ce5c"></div>
<div class="pl" style="top:726.2px;color:#143214">132.95</div>
<div class="tl" style="left:114.5px">10</div>
<div class="tl" style="left:233.0px">13</div>
<div class="tl" style="left:351.5px">16</div>
<div class="tl" style="left:470.0px">19</div>
<div class="tl" style="left:588.4px">22</div>
<div class="tl" style="left:706.9px">25</div>
<div class="tl" style="left:825.4px">28</div>
<div class="tl" style="left:943.9px"><b style="display:inline-block;transform:scaleX(.845);color:#161616;-webkit-text-stroke:0">دسامبر</b></div>
<div class="tl" style="left:1062.4px">4</div>
<div class="tl" style="left:1180.9px">7</div>
<div class="tl" style="left:1299.3px">10</div>
<div class="tl" style="left:1417.8px">13</div>
<div class="tl" style="left:1536.3px">16</div>
<div class="tl" style="left:1654.8px">19</div>
<div class="tl" style="left:1773.3px">22</div>
<div class="lg" style="left:19.6px;transform:scaleX(0.848)">SOLUSDT.P,</div>
<div class="lg" style="left:90.1px;transform:scaleX(0.978)">4h</div>
<div class="lg" style="left:112.6px;transform:scaleX(0.925)">O</div>
<div class="lg gv" style="left:122.1px;transform:scaleX(0.993)">132.67</div>
<div class="lg" style="left:170.3px;transform:scaleX(0.977)">H</div>
<div class="lg gv" style="left:180.1px;transform:scaleX(0.969)">133.05</div>
<div class="lg" style="left:227.6px;transform:scaleX(0.965)">L</div>
<div class="lg gv" style="left:235.1px;transform:scaleX(0.957)">131.81</div>
<div class="lg" style="left:282.6px;transform:scaleX(0.896)">C</div>
<div class="lg gv" style="left:291.6px;transform:scaleX(0.969)">132.95</div>
<div class="lg gv" style="left:339.6px;transform:scaleX(0.968)">+0.32</div>
<div class="lg gv" style="left:377.6px;transform:scaleX(0.914)">(+0.24%)</div>
<div id="brand" style="position:absolute;left:37.4px;top:1130.8px;font-size:15.3px;line-height:20px;color:#1f1f1f">Bitycle</div>
</body></html>
